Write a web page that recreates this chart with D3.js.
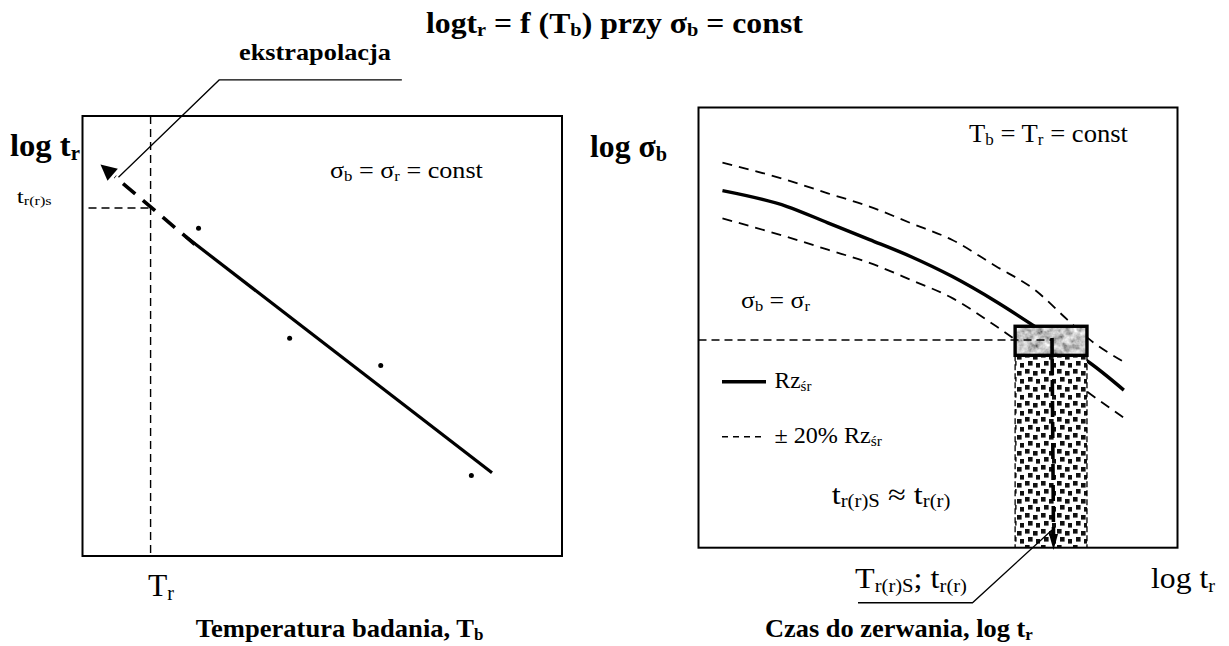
<!DOCTYPE html>
<html>
<head>
<meta charset="utf-8">
<script src="https://cdn.jsdelivr.net/npm/d3@7"></script>
<style>
  html, body { margin: 0; padding: 0; background: #fff; }
</style>
</head>
<body>
<svg id="chart" width="1229" height="646"></svg>
<script>
// ---- Left panel: log t_r versus test temperature T_b at constant stress ----
const testTemp   = [24.2, 43.2, 62.2, 81.1];   // measured points, T_b (relative units)
const logRupture = [74.5, 49.5, 43.3, 18.3];   // measured points, log t_r (relative units)
const fitTemp    = [21.5, 85.4];               // fitted line (solid part)
const fitLogT    = [72.6, 18.9];
const extrapTemp = [21.5, 3.75];               // extrapolation to the arrow tip
const extrapLogT = [72.6, 89.0];
const refTemp    = 14.2;                       // T_r
const refLogT    = 79.1;                       // t_r(r)s

// ---- Right panel: log stress versus log time at constant temperature ----
const curveLogT  = [5, 18.5, 27, 35.7, 44.4, 53, 62, 70.3, 77, 81.3, 88.8];
const meanStress = [81.1, 77.5, 73.8, 70.0, 66.1, 61.6, 56.0, 50.2, 45.3, 42.3, 35.8];
const upperBand  = [87.5, 83.5, 80.5, 77.5, 73.7, 69.9, 64.0, 58.5, 51.8, 47.6, 42.2];
const lowerBand  = [74.8, 70.6, 67.7, 64.7, 60.8, 56.7, 50.4, 44.0, 38.7, 35.3, 29.5];
const scatterLogT   = [66.1, 81.1];            // scatter band of rupture time
const scatterStress = [43.7, 50.3];            // grey box (stress tolerance)
const markerLogT    = 73.8;                    // t_r(r)
const stressLevel   = 47.2;                    // σ_b = σ_r

const svg = d3.select('#chart');
const FONT = '"Liberation Serif", "Times New Roman", Times, serif';

// panel frames (pixel layout)
const L = { x0: 82.5, x1: 562, y0: 116, y1: 556 };
const R = { x0: 698.5, x1: 1177.5, y0: 107.5, y1: 547.7 };

const xL = d3.scaleLinear().domain([0, 100]).range([L.x0, L.x1]);
const yL = d3.scaleLinear().domain([0, 100]).range([L.y1, L.y0]);
const xR = d3.scaleLinear().domain([0, 100]).range([R.x0, R.x1]);
const yR = d3.scaleLinear().domain([0, 100]).range([R.y1, R.y0]);

// ---- defs: textures ----
const defs = svg.append('defs');
const mottle = defs.append('filter').attr('id', 'mottle')
  .attr('x', 0).attr('y', 0).attr('width', 1).attr('height', 1);
mottle.append('feTurbulence').attr('type', 'fractalNoise')
  .attr('baseFrequency', 0.14).attr('numOctaves', 3).attr('seed', 7);
mottle.append('feColorMatrix').attr('type', 'matrix')
  .attr('values', '1.4 0 0 0 -0.15  1.4 0 0 0 -0.15  1.4 0 0 0 -0.15  0 0 0 0 1');

const pat = defs.append('pattern').attr('id', 'speckle')
  .attr('patternUnits', 'userSpaceOnUse').attr('width', 16).attr('height', 16);
pat.append('rect').attr('width', 16).attr('height', 16).attr('fill', '#fff');
[[1, 1], [9, 3], [4, 9], [12, 11]].forEach(([a, b]) =>
  pat.append('rect').attr('x', a).attr('y', b).attr('width', 4.6).attr('height', 4.6).attr('fill', '#111'));

// ---- text helper: parts = [[string, isSubscript]], fitted to a width ----
function label(x, y, parts, o) {
  const t = svg.append('text').attr('x', x).attr('y', y)
    .attr('font-family', FONT).attr('font-size', o.size)
    .attr('font-weight', o.bold ? 'bold' : 'normal').attr('fill', '#000');
  const shift = o.size * 0.12;
  let down = false;
  parts.forEach(([s, sub]) => {
    const ts = t.append('tspan').text(s);
    if (sub) {
      ts.attr('font-size', o.size * 0.64);
      if (!down) { ts.attr('dy', shift); down = true; }
    } else if (down) { ts.attr('dy', -shift); down = false; }
  });
  if (o.w) {
    const w = t.node().getComputedTextLength();
    const sx = o.w / w;
    t.attr('transform', `translate(${x},0) scale(${sx},1) translate(${-x},0)`);
  }
  return t;
}

function arrowHead(g, from, tip, len, half) {
  const dx = tip[0] - from[0], dy = tip[1] - from[1];
  const d = Math.hypot(dx, dy), ux = dx / d, uy = dy / d;
  const bx = tip[0] - ux * len, by = tip[1] - uy * len;
  g.append('path')
    .attr('d', `M${tip[0]},${tip[1]}L${bx - uy * half},${by + ux * half}L${bx + uy * half},${by - ux * half}Z`)
    .attr('fill', '#000');
  return [bx, by];
}

// ================= LEFT PANEL =================
const gL = svg.append('g');
gL.append('rect').attr('x', L.x0).attr('y', L.y0)
  .attr('width', L.x1 - L.x0).attr('height', L.y1 - L.y0)
  .attr('fill', 'none').attr('stroke', '#000').attr('stroke-width', 2);

// T_r reference and t_r(r)s level
gL.append('line').attr('x1', xL(refTemp)).attr('x2', xL(refTemp))
  .attr('y1', yL(100)).attr('y2', yL(0))
  .attr('stroke', '#000').attr('stroke-width', 1.4).attr('stroke-dasharray', '8,5');
gL.append('line').attr('x1', xL(0) + 6).attr('x2', xL(refTemp))
  .attr('y1', yL(refLogT)).attr('y2', yL(refLogT))
  .attr('stroke', '#000').attr('stroke-width', 1.4).attr('stroke-dasharray', '8,5');

// fitted line
gL.append('line').attr('x1', xL(fitTemp[0])).attr('y1', yL(fitLogT[0]))
  .attr('x2', xL(fitTemp[1])).attr('y2', yL(fitLogT[1]))
  .attr('stroke', '#000').attr('stroke-width', 3.2);

// extrapolation with arrow
const exFrom = [xL(extrapTemp[0]), yL(extrapLogT[0])];
const exTip  = [xL(extrapTemp[1]), yL(extrapLogT[1])];
const exBase = arrowHead(gL, exFrom, exTip, 16, 8);
const exDx = exBase[0] - exFrom[0], exDy = exBase[1] - exFrom[1];
const exLen = Math.hypot(exDx, exDy);
gL.append('line').attr('x1', exFrom[0] - exDx / exLen * 12).attr('y1', exFrom[1] - exDy / exLen * 12)
  .attr('x2', exBase[0] - exDx / exLen * 3).attr('y2', exBase[1] - exDy / exLen * 3)
  .attr('stroke', '#000').attr('stroke-width', 3.6).attr('stroke-dasharray', '16,10');

// measured points
gL.selectAll('circle.pt').data(testTemp).join('circle').attr('class', 'pt')
  .attr('cx', (d) => xL(d)).attr('cy', (d, i) => yL(logRupture[i])).attr('r', 2.5).attr('fill', '#000');

// leader for "ekstrapolacja"
const leaderL = [[66.6, 108.2], [28.5, 108.2], [7.5, 86.1]];
gL.append('path').attr('d', d3.line().x((d) => xL(d[0])).y((d) => yL(d[1]))(leaderL))
  .attr('fill', 'none').attr('stroke', '#000').attr('stroke-width', 1.3);

// ================= RIGHT PANEL =================
const gR = svg.append('g');

const line = (ys) => d3.line().curve(d3.curveMonotoneX)
  .x((d, i) => xR(curveLogT[i])).y((d) => yR(d))(ys);

gR.append('path').attr('d', line(upperBand)).attr('fill', 'none')
  .attr('stroke', '#000').attr('stroke-width', 1.8).attr('stroke-dasharray', '10,7');
gR.append('path').attr('d', line(lowerBand)).attr('fill', 'none')
  .attr('stroke', '#000').attr('stroke-width', 1.8).attr('stroke-dasharray', '10,7');
gR.append('path').attr('d', line(meanStress)).attr('fill', 'none')
  .attr('stroke', '#000').attr('stroke-width', 3.4);

// scatter column of rupture time
gR.append('rect').attr('x', xR(scatterLogT[0])).attr('y', yR(scatterStress[0]))
  .attr('width', xR(scatterLogT[1]) - xR(scatterLogT[0]))
  .attr('height', yR(0) - yR(scatterStress[0]))
  .attr('fill', 'url(#speckle)');
[scatterLogT[0], scatterLogT[1]].forEach((v) =>
  gR.append('line').attr('x1', xR(v)).attr('x2', xR(v))
    .attr('y1', yR(scatterStress[0])).attr('y2', yR(0))
    .attr('stroke', '#000').attr('stroke-width', 1.3).attr('stroke-dasharray', '6,3'));

// grey stress box
gR.append('rect').attr('x', xR(scatterLogT[0])).attr('y', yR(scatterStress[1]))
  .attr('width', xR(scatterLogT[1]) - xR(scatterLogT[0]))
  .attr('height', yR(scatterStress[0]) - yR(scatterStress[1]))
  .attr('fill', '#999').attr('filter', 'url(#mottle)');
gR.append('rect').attr('x', xR(scatterLogT[0])).attr('y', yR(scatterStress[1]))
  .attr('width', xR(scatterLogT[1]) - xR(scatterLogT[0]))
  .attr('height', yR(scatterStress[0]) - yR(scatterStress[1]))
  .attr('fill', 'none').attr('stroke', '#000').attr('stroke-width', 3.4);

// σ_b = σ_r level
gR.append('line').attr('x1', xR(0)).attr('x2', xR(markerLogT))
  .attr('y1', yR(stressLevel)).attr('y2', yR(stressLevel))
  .attr('stroke', '#000').attr('stroke-width', 1.4).attr('stroke-dasharray', '8,5');

// projection down to the time axis
const vTip = [xR(markerLogT) + 1.5, yR(-0.5)];
const vBase = arrowHead(gR, [xR(markerLogT) + 1.5, yR(stressLevel)], vTip, 16, 4.5);
gR.append('line').attr('x1', xR(markerLogT)).attr('x2', vBase[0])
  .attr('y1', yR(stressLevel) - 2).attr('y2', vBase[1])
  .attr('stroke', '#000').attr('stroke-width', 3.6).attr('stroke-dasharray', '16,5');

// frame
gR.append('rect').attr('x', R.x0).attr('y', R.y0)
  .attr('width', R.x1 - R.x0).attr('height', R.y1 - R.y0)
  .attr('fill', 'none').attr('stroke', '#000').attr('stroke-width', 2);

// legend
gR.append('line').attr('x1', 722).attr('x2', 766).attr('y1', 381.7).attr('y2', 381.7)
  .attr('stroke', '#000').attr('stroke-width', 3.6);
gR.append('line').attr('x1', 722).attr('x2', 766).attr('y1', 436.7).attr('y2', 436.7)
  .attr('stroke', '#000').attr('stroke-width', 1.5).attr('stroke-dasharray', '6,5');

// leader for T_r(r)S; t_r(r)
const leaderR = [[33.3, -12.5], [57.2, -12.5], [73.8, 4.0]];
gR.append('path').attr('d', d3.line().x((d) => xR(d[0])).y((d) => yR(d[1]))(leaderR))
  .attr('fill', 'none').attr('stroke', '#000').attr('stroke-width', 1.3);

// ================= TEXT =================
label(426, 33, [['logt'], ['r', 1], [' = f (T'], ['b', 1], [') przy σ'], ['b', 1], [' = const']], { size: 29, bold: true, w: 377 });
label(239, 60, [['ekstrapolacja']], { size: 24, bold: true, w: 152 });
label(10, 156, [['log t'], ['r', 1]], { size: 32, bold: true, w: 70 });
label(16.7, 203, [['t'], ['r(r)s', 1]], { size: 19, w: 35 });
label(330, 178, [['σ'], ['b', 1], [' = σ'], ['r', 1], [' = const']], { size: 24, w: 153 });
label(148, 596, [['T'], ['r', 1]], { size: 32, w: 26 });
label(195.7, 637, [['Temperatura badania, T'], ['b', 1]], { size: 25, bold: true, w: 288 });

label(590, 157, [['log σ'], ['b', 1]], { size: 32, bold: true, w: 77 });
label(969, 142, [['T'], ['b', 1], [' = T'], ['r', 1], [' = const']], { size: 26, w: 159 });
label(741, 308, [['σ'], ['b', 1], [' = σ'], ['r', 1]], { size: 24, w: 69 });
label(774.5, 388, [['Rz'], ['śr', 1]], { size: 24, w: 37 });
label(774.5, 443, [['± 20% Rz'], ['śr', 1]], { size: 24, w: 107.5 });
label(831.7, 504, [['t'], ['r(r)S', 1], [' ≈ t'], ['r(r)', 1]], { size: 28, w: 118.7 });
label(855, 588, [['T'], ['r(r)S', 1], ['; t'], ['r(r)', 1]], { size: 30, w: 112 });
label(1151, 588, [['log t'], ['r', 1]], { size: 30, w: 64 });
label(765, 637, [['Czas do zerwania, log t'], ['r', 1]], { size: 25, bold: true, w: 268 });
</script>
</body>
</html>
